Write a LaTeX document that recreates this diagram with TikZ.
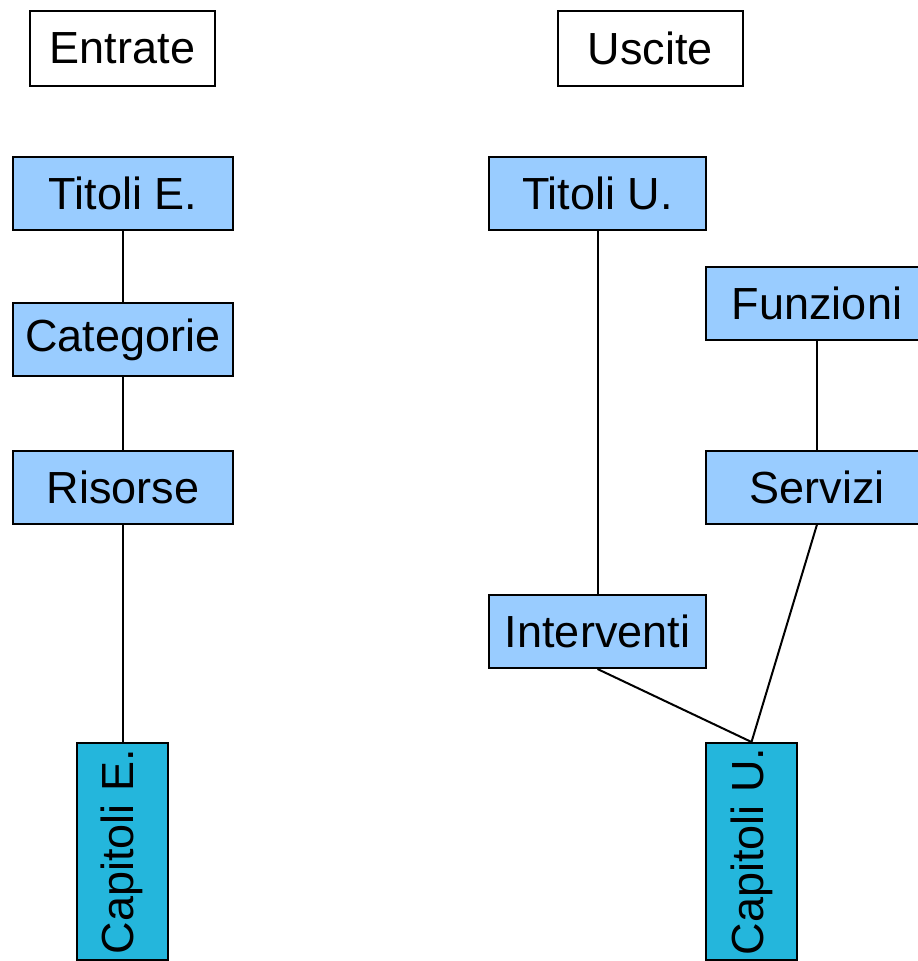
\documentclass[tikz,border=0pt]{standalone}
\usepackage{fontspec}
\setmainfont{Liberation Sans}
\definecolor{lblue}{RGB}{153,204,255}
\definecolor{teal2}{RGB}{36,182,220}
\begin{document}
\begin{tikzpicture}[x=1pt,y=1pt,
  every node/.style={font=\fontsize{45}{54}\selectfont, inner sep=0pt, line width=2pt, draw=black},
  header/.style={fill=white, minimum width=185pt, minimum height=75pt},
  level/.style={fill=lblue, minimum width=220pt, minimum height=73pt},
  chap/.style={fill=teal2, rotate=90, minimum width=217pt, minimum height=91pt},
  link/.style={line width=2pt}]
\clip (0,0) rectangle (918,-961);
\fill[white] (0,0) rectangle (918,-961);
\node[header] (entrate) at (122.5,-48.5) {Entrate};
\node[header] (uscite) at (650.5,-48.5) {Uscite};
\node[level] (titolie) at (123,-193.5) {Titoli E.};
\node[level] (categorie) at (123,-339.5) {Categorie};
\node[level] (risorse) at (123,-487) {Risorse};
\node[chap] (capitolie) at (122,-851.5) {Capitoli E.};
\node[level, minimum width=217pt] (titoliu) at (597.5,-193.5) {Titoli U.};
\node[level, minimum width=222pt] (funzioni) at (817,-303) {Funzioni};
\node[level, minimum width=222pt] (servizi) at (817,-487) {Servizi};
\node[level, minimum width=217pt] (interventi) at (597.5,-631.5) {Interventi};
\node[chap] (capitoliu) at (751.5,-851.5) {Capitoli U.};
\draw[link] (titolie) -- (categorie);
\draw[link] (categorie) -- (risorse);
\draw[link] (risorse.south) -- (risorse.south |- capitolie.east);
\draw[link] (titoliu) -- (interventi);
\draw[link] (funzioni) -- (servizi);
\draw[link] (servizi.south) -- (capitoliu.east);
\draw[link] (interventi.south) -- (capitoliu.east);
\end{tikzpicture}
\end{document}
